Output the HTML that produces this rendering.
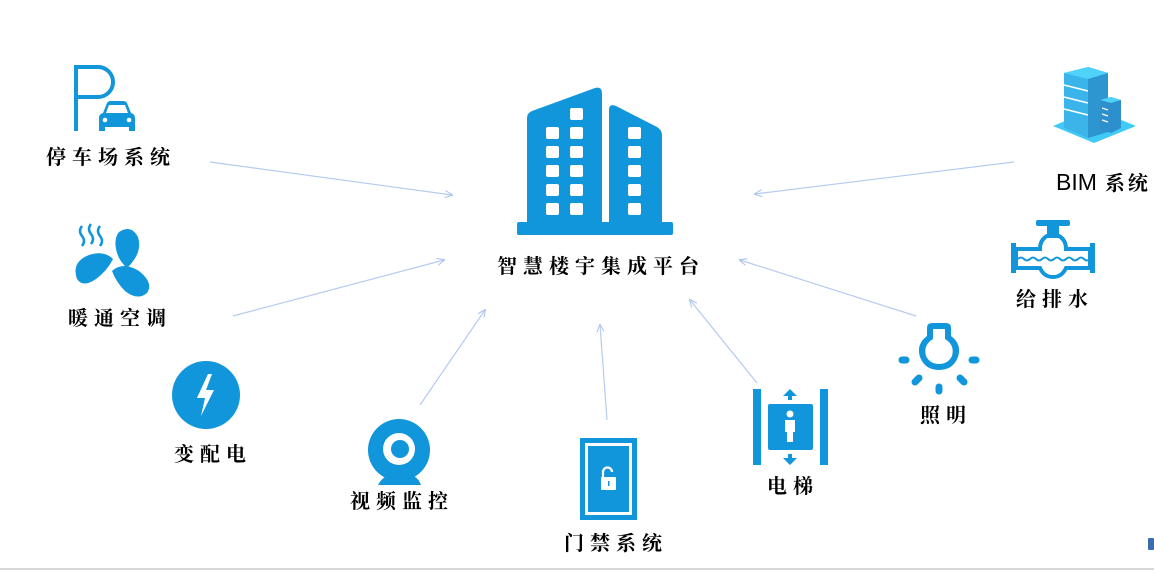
<!DOCTYPE html>
<html><head><meta charset="utf-8"><style>
body{margin:0;width:1154px;height:572px;background:#fff;position:relative;overflow:hidden;font-family:"Liberation Sans","Noto Serif CJK SC",serif}
.t{position:absolute;font-family:"Noto Serif CJK SC",serif;font-size:20px;color:#000;letter-spacing:6px;white-space:nowrap;font-weight:700}
svg{position:absolute;left:0;top:0}
</style></head><body>
<svg width="1154" height="572" viewBox="0 0 1154 572">
<defs><marker id="a" markerWidth="8" markerHeight="8" refX="7" refY="4" orient="auto" markerUnits="userSpaceOnUse"><path d="M0,0.5 L8,4 L0,7.5" fill="none" stroke="#a9c1ee" stroke-width="1"/></marker></defs>
<g stroke="#b6cbf0" stroke-width="1.2" fill="none" marker-end="url(#a)">
<line x1="210" y1="162" x2="452" y2="195"/>
<line x1="233" y1="316" x2="444" y2="260"/>
<line x1="420" y1="405" x2="485" y2="310"/>
<line x1="607" y1="420" x2="600" y2="325"/>
<line x1="757" y1="383" x2="690" y2="300"/>
<line x1="916" y1="316" x2="740" y2="260"/>
<line x1="1014" y1="162" x2="755" y2="194"/>
</g>
<g fill="#1296db">
<path d="M527,118 Q527,113 532,111 L595,88 Q602,86 602,94 L602,226 L527,226Z"/>
<path d="M609,110 Q609,103 616,106 L657,127 Q662,130 662,135 L662,226 L609,226Z"/>
<rect x="517" y="222" width="156" height="13" rx="2"/>
</g>
<g fill="#fff">
<rect x="570" y="108" width="13" height="12" rx="2"/>
<rect x="546" y="127" width="13" height="12" rx="2"/><rect x="570" y="127" width="13" height="12" rx="2"/><rect x="628" y="127" width="13" height="12" rx="2"/>
<rect x="546" y="146" width="13" height="12" rx="2"/><rect x="570" y="146" width="13" height="12" rx="2"/><rect x="628" y="146" width="13" height="12" rx="2"/>
<rect x="546" y="165" width="13" height="12" rx="2"/><rect x="570" y="165" width="13" height="12" rx="2"/><rect x="628" y="165" width="13" height="12" rx="2"/>
<rect x="546" y="184" width="13" height="12" rx="2"/><rect x="570" y="184" width="13" height="12" rx="2"/><rect x="628" y="184" width="13" height="12" rx="2"/>
<rect x="546" y="203" width="13" height="12" rx="2"/><rect x="570" y="203" width="13" height="12" rx="2"/><rect x="628" y="203" width="13" height="12" rx="2"/>
</g>
<g>
<path d="M76,131 L76,67 L98,67 A15,15 0 0 1 98,97 L78,97" fill="none" stroke="#1296db" stroke-width="4"/>
<path d="M103,113 L107,103 Q108,101 111,101 L123,101 Q126,101 127,103 L131,113 Q135,114 135,118 L135,131 L129,131 L129,127 L105,127 L105,131 L99,131 L99,118 Q99,114 103,113Z" fill="#1296db"/>
<path d="M106,113 L109,105 L125,105 L128,113Z" fill="#fff"/>
<circle cx="105" cy="120" r="2.3" fill="#fff"/><circle cx="129" cy="120" r="2.3" fill="#fff"/>
</g>
<g fill="#1296db">
<path d="M82,226 q-4,5 0,10 q4,5 0,10" stroke="#1296db" stroke-width="2.5" fill="none"/>
<path d="M91,224 q-4,5 0,10 q4,5 0,10" stroke="#1296db" stroke-width="2.5" fill="none"/>
<path d="M100,226 q-4,5 0,10 q4,5 0,10" stroke="#1296db" stroke-width="2.5" fill="none"/>
<path d="M119,232 Q131,224 138,237 Q143,253 127,268 Q118,260 116,249 Q114,238 119,232Z"/>
<path d="M77,279 Q71,262 89,255 Q104,250 113,259 Q107,271 96,279 Q83,288 77,279Z"/>
<path d="M112,271 Q123,261 139,271 Q154,283 147,293 Q138,301 125,291 Q116,282 112,271Z"/>
</g>
<circle cx="206" cy="395" r="34" fill="#1296db"/>
<path d="M208,374 L197,398 L205,398 L201,416 L214,390 L206,390 L212,374Z" fill="#fff"/>
<circle cx="399" cy="450" r="31" fill="#1296db"/>
<circle cx="399" cy="449" r="16" fill="#fff"/>
<circle cx="400" cy="449" r="9" fill="#1296db"/>
<path d="M378,485 Q384,473 400,473 Q417,473 421,485Z" fill="#1296db"/>
<rect x="580" y="438" width="57" height="82" fill="#1296db"/>
<rect x="585" y="443" width="47" height="72" fill="#fff"/>
<rect x="588" y="446" width="41" height="66" fill="#1296db"/>
<rect x="601" y="477" width="15" height="13" rx="1" fill="#fff"/>
<path d="M603,478 L603,472 A4.5,4.5 0 0 1 612,472" stroke="#fff" stroke-width="2.2" fill="none"/>
<rect x="608" y="481" width="1.5" height="5" fill="#1296db"/>
<g fill="#1296db">
<rect x="753" y="389" width="8" height="76"/><rect x="820" y="389" width="8" height="76"/>
<rect x="768" y="404" width="45" height="46" rx="2"/>
<path d="M790,389 L783,396 L788,396 L788,400 L792,400 L792,396 L797,396Z"/>
<path d="M790,465 L783,458 L788,458 L788,454 L792,454 L792,458 L797,458Z"/>
</g>
<circle cx="790" cy="414" r="3.5" fill="#fff"/>
<path d="M785,420 L795,420 L795,432 L793,432 L793,442 L787,442 L787,432 L785,432Z" fill="#fff"/>
<g fill="#1296db">
<path d="M932,323 L946,323 Q951,323 951,328 L951,336 Q962,344 958,357 Q953,370 939,370 Q925,370 920,357 Q916,344 927,336 L927,328 Q927,323 932,323Z"/>
</g>
<path d="M933,329 L945,329 L945,339 Q955,345 952,356 Q948,364 939,364 Q930,364 926,356 Q923,345 933,339Z" fill="#fff"/>
<g stroke="#1296db" stroke-width="7" stroke-linecap="round">
<line x1="902" y1="360" x2="906" y2="360"/><line x1="972" y1="360" x2="976" y2="360"/>
<line x1="915" y1="382" x2="919" y2="378"/><line x1="960" y1="378" x2="964" y2="382"/>
<line x1="939" y1="387" x2="939" y2="391"/>
</g>
<g fill="#1296db">
<rect x="1036" y="220" width="34" height="6" rx="2"/>
<rect x="1047" y="226" width="12" height="8"/>
<rect x="1011" y="243" width="5" height="30"/><rect x="1090" y="243" width="5" height="30"/>
</g>
<path d="M1016,249 L1040,249 Q1040,240 1047,236 L1059,236 Q1066,240 1066,249 L1090,249 L1090,268 L1066,268 Q1062,277 1053,277 Q1044,277 1040,268 L1016,268Z" fill="none" stroke="#1296db" stroke-width="4"/>
<path d="M1018,259 q3,-3 6,0 t6,0 t6,0 t6,0 t6,0 t6,0 t6,0 t6,0 t6,0 t6,0 t6,0 t6,0" stroke="#1296db" stroke-width="2" fill="none"/>
<path d="M1053,126 L1094,109 L1136,126 L1094,143Z" fill="#3fcbf5"/>
<path d="M1064,73 L1088,67 L1108,73 L1108,132 L1088,138 L1064,128Z" fill="#3bb4ea"/>
<path d="M1088,67 L1108,73 L1108,132 L1088,138Z" fill="#2d95d0"/>
<path d="M1064,73 L1088,67 L1108,73 L1088,79Z" fill="#4fd3fb"/>
<g stroke="#fff" stroke-width="1.5"><line x1="1064" y1="85" x2="1088" y2="91"/><line x1="1064" y1="97" x2="1088" y2="103"/><line x1="1064" y1="109" x2="1088" y2="115"/></g>
<path d="M1100,100 L1111,97 L1121,100 L1121,128 L1111,133 L1100,129Z" fill="#2d8fcc"/>
<path d="M1100,100 L1111,97 L1121,100 L1111,103Z" fill="#4fd3fb"/>
<g stroke="#fff" stroke-width="1.2"><line x1="1102" y1="108" x2="1108" y2="110"/><line x1="1102" y1="114" x2="1108" y2="116"/><line x1="1102" y1="120" x2="1108" y2="122"/></g>
<line x1="0" y1="569" x2="1154" y2="569" stroke="#d8d8d8" stroke-width="2"/>
<rect x="1148" y="538" width="6" height="12" rx="1" fill="#3a6db0"/>
</svg>
<div class="t" style="left:497px;top:250px;font-size:20px;letter-spacing:6px">智慧楼宇集成平台</div>
<div class="t" style="left:46px;top:141px">停车场系统</div>
<div class="t" style="left:68px;top:302px">暖通空调</div>
<div class="t" style="left:174px;top:438px">变配电</div>
<div class="t" style="left:350px;top:485px">视频监控</div>
<div class="t" style="left:564px;top:527px">门禁系统</div>
<div class="t" style="left:767px;top:470px">电梯</div>
<div class="t" style="left:920px;top:399px">照明</div>
<div class="t" style="left:1016px;top:283px">给排水</div>
<div class="t" style="left:1056px;top:167px;letter-spacing:3px"><span style="font-family:'Liberation Sans',sans-serif;font-weight:400;font-size:23px;letter-spacing:0">BIM</span> 系统</div>
</body></html>
